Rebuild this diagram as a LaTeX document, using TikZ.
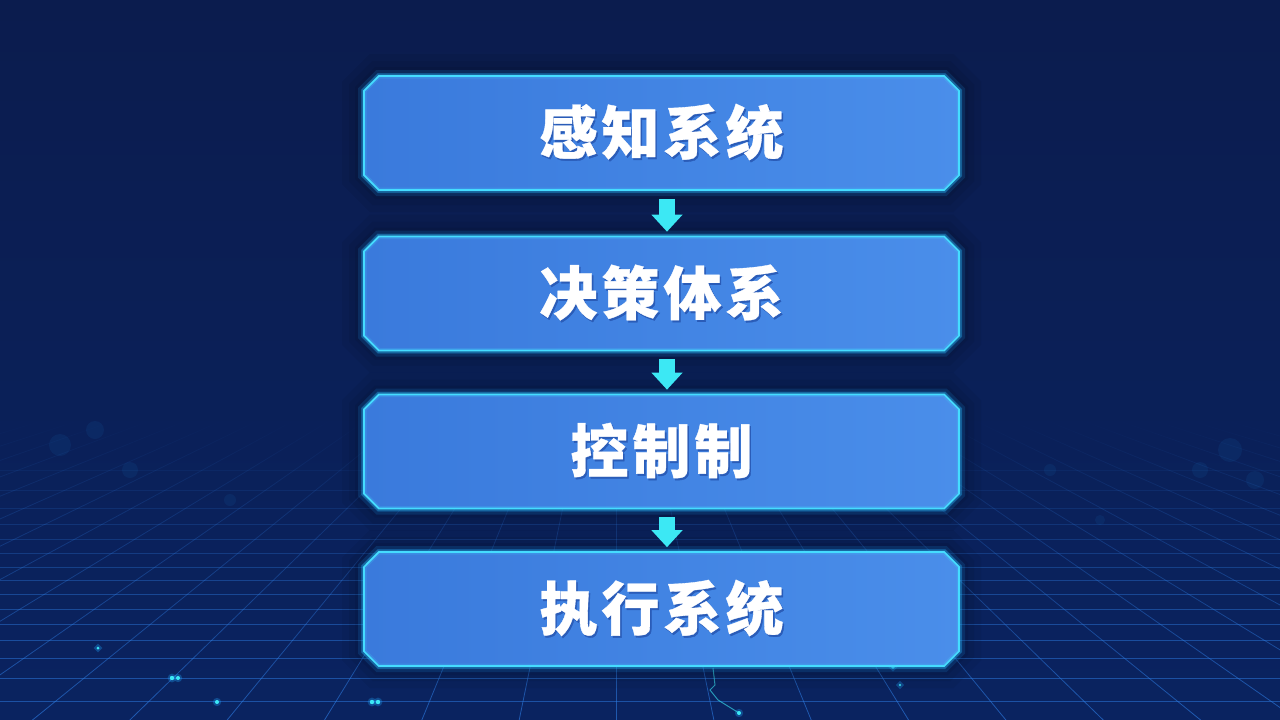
\documentclass[tikz,border=0pt]{standalone}
\usepackage{fontspec}
\newfontfamily\cjk{Noto Sans CJK SC}[LetterSpace=7, FakeBold=0.6]
\usetikzlibrary{shapes.misc, arrows.meta, fadings}
\definecolor{bgtop}{HTML}{0B1C4E}
\definecolor{bgmid}{HTML}{0D2964}
\definecolor{bgbot}{HTML}{0A2360}
\definecolor{gridc}{HTML}{2F80E8}
\definecolor{boxleft}{HTML}{3A7ADC}
\definecolor{boxright}{HTML}{4A8EEA}
\definecolor{edge}{HTML}{45DCFF}
\definecolor{glowc}{HTML}{1FA8FF}
\definecolor{arrowc}{HTML}{3CE8F4}
\definecolor{tshadow}{HTML}{2A5CB8}
\tikzfading[name=gridin, top color=transparent!100, bottom color=transparent!0]
\newcommand\shtext[1]{\makebox[0pt][l]{\kern1.5pt\raisebox{-2pt}{\textcolor{tshadow}{#1}}}#1}
\tikzset{
  stage/.style={chamfered rectangle, chamfered rectangle xsep=12pt,
    minimum width=595pt, minimum height=114pt, inner sep=0pt,
    left color=boxleft, right color=boxright, draw=edge, line width=1.6pt,
    text=white, font=\cjk\bfseries\fontsize{58}{58}\selectfont,
    preaction={draw=black, opacity=0.05, line width=44pt},
    preaction={draw=black, opacity=0.06, line width=30pt},
    preaction={draw=black, opacity=0.07, line width=18pt},
    preaction={draw=glowc, opacity=0.14, line width=12pt},
    preaction={draw=glowc, opacity=0.28, line width=6pt},
    postaction={draw=edge, opacity=0.18, line width=5pt}},
  conn/.style={draw=arrowc, line width=16pt,
    -{Triangle[width=30pt,length=17pt]}},
  dot/.style={fill=arrowc, preaction={fill=glowc, opacity=.3, draw=glowc, line width=4pt}},
  bokeh/.style={fill=glowc, opacity=.07},
  gridline/.style={draw=gridc, line width=.8pt}
}
\begin{document}
\begin{tikzpicture}[x=1pt, y=-1pt]
\useasboundingbox (0,0) rectangle (1280,720);
% background
\shade[top color=bgtop, middle color=bgmid, bottom color=bgbot] (0,0) rectangle (1280,720);
% perspective grid floor
\begin{scope}
  \clip (0,420) rectangle (1280,720);
  \foreach \yy/\op in {470/.08,490/.12,508/.16,524/.2,539/.24,553/.28,567/.32,580/.36,594/.4,609/.42,624/.44,640/.46,658/.48,678/.5,701/.5}
    \draw[gridline, opacity=\op] (0,\yy) -- (1280,\yy);
  \draw[gridline, opacity=.6, path fading=gridin]
    \foreach \k in {-17,...,17} { ({640+\k*36},420) -- ({640+\k*98},720) };
\end{scope}
% bokeh
\foreach \bx/\by/\br in {60/445/11, 95/430/9, 130/470/8, 1230/450/12, 1200/470/8, 1255/480/9, 1050/470/6, 1100/520/5, 230/500/6}
  \fill[bokeh] (\bx,\by) circle (\br);
% particles
\foreach \px/\py/\pr in {98/648/1.5, 172/678/2.2, 178/678/2, 217/702/2, 372/702/2.2, 378/702/2.2, 739/713/2, 893/667/1.8, 900/685/1.2}
  \fill[dot] (\px,\py) circle (\pr);
\draw[arrowc, opacity=.6, line width=1pt] (713,668) -- (715,685) -- (710,690) -- (718,700) -- (739,713);
% stages
\node[stage] (sense)   at (661.5,133)   {\shtext{感知系统}};
\node[stage] (decide)  at (661.5,293.5) {\shtext{决策体系}};
\node[stage] (control) at (661.5,451.5) {\shtext{控制制}};
\node[stage] (execute) at (661.5,609)   {\shtext{执行系统}};
% connectors
\draw[conn] ([xshift=5.5pt,yshift=-8pt]sense.south)   -- ([xshift=5.5pt,yshift=4pt]decide.north);
\draw[conn] ([xshift=5.5pt,yshift=-8pt]decide.south)  -- ([xshift=5.5pt,yshift=4pt]control.north);
\draw[conn] ([xshift=5.5pt,yshift=-8pt]control.south) -- ([xshift=5.5pt,yshift=4pt]execute.north);
\end{tikzpicture}
\end{document}
